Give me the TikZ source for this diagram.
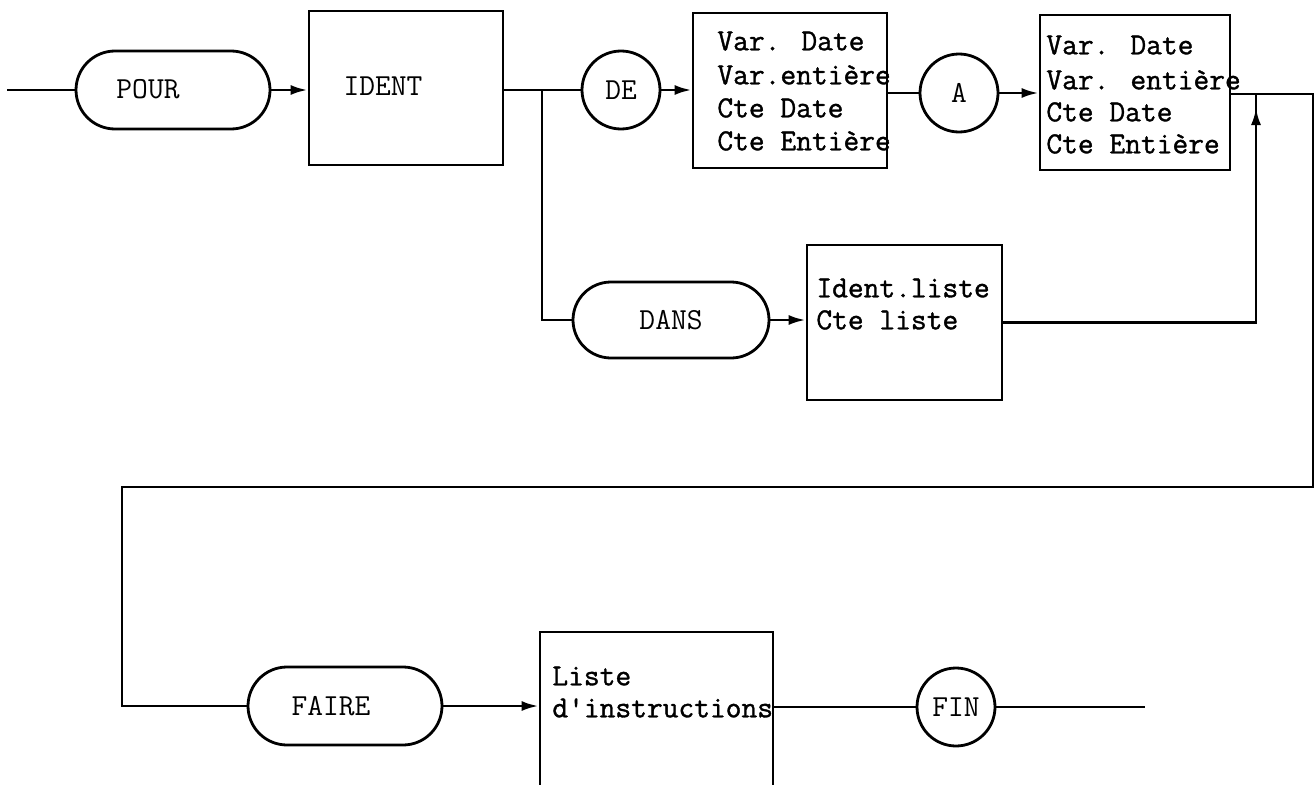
\documentclass[tikz,border=0pt]{standalone}
\usepackage{fontspec}
\newfontfamily\boxfont{Latin Modern Mono}[FakeBold=1.2]
\newfontfamily\lblfont{Latin Modern Mono}
\usetikzlibrary{shapes.misc,arrows.meta}
\begin{document}
\begin{tikzpicture}[x=1pt,y=-1pt,line width=2.8pt,
  font=\lblfont\fontsize{30.6}{33}\selectfont,
  stad/.style={draw,rounded rectangle,minimum width=194pt,minimum height=78pt,inner sep=0pt},
  blk/.style={draw,rectangle,inner sep=0pt},
  circ/.style={draw,circle,minimum size=78pt,inner sep=0pt},
  txt/.style={inner sep=0pt,anchor=west,text height=18.6pt,text depth=0pt,
    font=\boxfont\fontsize{30.6}{33}\selectfont},
  lbl/.style={inner sep=0pt,text height=18.6pt,text depth=0pt},
  arr/.style={-{Latex[length=17pt,width=10pt]}}]
\useasboundingbox (0,0) rectangle (1316,784);
\clip (0,0) rectangle (1316,784);
\fill[white] (0,0) rectangle (1316,784);

% top row
\coordinate (start) at (7,90);
\node[stad] (pour) at (173,90) {};
\node[lbl] (pourt) at (148,89) {POUR};
\node[blk,minimum width=194pt,minimum height=154pt] (ident) at (406,88) {};
\node[lbl] (identt) at (383,86) {IDENT};
\node[circ] (de) at (621,90) {DE};
\node[blk,minimum width=194pt,minimum height=155pt] (b1) at (790,90.5) {};
\node[txt] (b1a) at (716,41) {Var. Date};
\node[txt] (b1b) at (716,75) {Var.entière};
\node[txt] (b1c) at (716,108) {Cte Date};
\node[txt] (b1d) at (716,141) {Cte Entière};
\node[circ] (a) at (959,93) {A};
\node[blk,minimum width=190pt,minimum height=155pt] (b2) at (1135,92.5) {};
\node[txt] (b2a) at (1045,45) {Var. Date};
\node[txt] (b2b) at (1045,80) {Var. entière};
\node[txt] (b2c) at (1045,112) {Cte Date};
\node[txt] (b2d) at (1045,144) {Cte Entière};

% middle row
\node[stad,minimum width=196pt,minimum height=76pt] (dans) at (671,320) {DANS};
\node[blk,minimum width=195pt,minimum height=155pt] (il) at (904.5,322.5) {};
\node[txt] (ila) at (815,288) {Ident.liste};
\node[txt] (ilb) at (815,320) {Cte liste};

% bottom row
\node[stad] (faire) at (345,706) {};
\node[lbl] (fairet) at (331,706) {FAIRE};
\node[blk,minimum width=233pt,minimum height=178pt] (lst) at (656.5,721) {};
\node[txt] (lsta) at (551,676) {Liste};
\node[txt] (lstb) at (551,708) {d'instructions};
\node[circ] (fin) at (956,707) {FIN};
\coordinate (endc) at (1145,707);

% routing coordinates
\coordinate (br) at (542,90);
\coordinate (r1) at (1313,94);
\coordinate (r2) at (1313,487);
\coordinate (l1) at (122,487);
\coordinate (j1) at (1256,322.5);
\coordinate (j2) at (1256,94);
\coordinate (jtip) at (1256,108);

% connectors
\draw (start) -- (pour.west);
\draw[arr] (pour.east) -- (pour.east -| ident.west);
\draw (ident.east |- de.west) -- (de.west);
\draw (br) |- (dans.west);
\draw[arr] (de.east) -- (de.east -| b1.west);
\draw (b1.east |- a.west) -- (a.west);
\draw[arr] (a.east) -- (a.east -| b2.west);
\draw (b2.east |- r1) -- (r1) -- (r2) -- (l1) |- (faire.west);
\draw[arr] (dans.east) -- (dans.east -| il.west);
\draw (il.east) -- (j1) -- (j2);
\draw[arr] (j1) -- (jtip);
\draw[arr] (faire.east) -- (faire.east -| lst.west);
\draw (lst.east |- fin.west) -- (fin.west);
\draw (fin.east) -- (endc);
\end{tikzpicture}
\end{document}
